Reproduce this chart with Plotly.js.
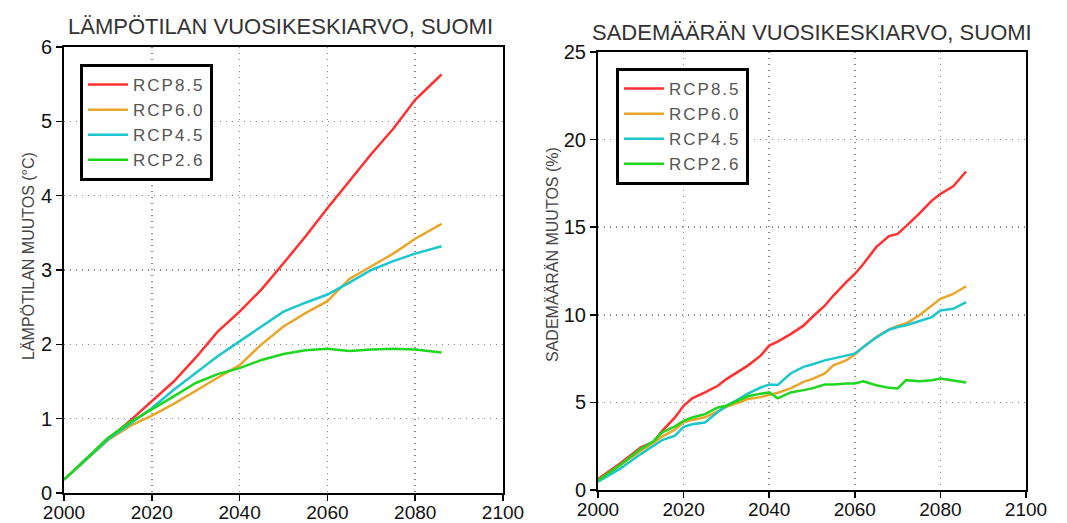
<!DOCTYPE html>
<html>
<head>
<meta charset="utf-8">
<script src="https://cdn.plot.ly/plotly-3.0.1.min.js"></script>
<style>
html,body{margin:0;padding:0;background:#fff;}
#chart{width:1067px;height:523px;}
text.legendtext, g[class*="legend"] text{letter-spacing:2px;}
</style>
</head>
<body>
<div id="chart"></div>
<script>
// ---- Temperature (left panel) ----
const tempYears = [2000,2005,2010,2015,2020,2025,2030,2035,2040,2045,2050,2055,2060,2065,2070,2075,2080,2086];
const tempRCP85 = [0.18,0.45,0.72,0.97,1.24,1.50,1.82,2.17,2.44,2.74,3.09,3.45,3.83,4.20,4.56,4.90,5.29,5.63];
const tempRCP60 = [0.18,0.45,0.71,0.90,1.04,1.20,1.38,1.55,1.72,2.00,2.24,2.42,2.58,2.88,3.05,3.22,3.42,3.62];
const tempRCP45 = [0.18,0.45,0.72,0.93,1.14,1.39,1.61,1.84,2.04,2.24,2.44,2.56,2.67,2.83,3.00,3.12,3.22,3.32];
const tempRCP26 = [0.18,0.46,0.74,0.95,1.12,1.30,1.48,1.60,1.68,1.79,1.87,1.92,1.94,1.91,1.93,1.94,1.93,1.89];

// ---- Precipitation (right panel) ----
const precYears = [2000,2005,2010,2013,2015,2018,2020,2022,2025,2028,2030,2033,2035,2038,2040,2042,2045,2048,2050,2053,2055,2058,2060,2062,2065,2068,2070,2072,2075,2078,2080,2083,2086];
const precRCP85 = [0.62,1.48,2.43,2.75,3.38,4.14,4.81,5.23,5.57,5.95,6.33,6.81,7.10,7.67,8.24,8.47,8.90,9.38,9.86,10.52,11.10,11.86,12.33,12.90,13.86,14.49,14.62,15.06,15.76,16.52,16.90,17.34,18.18];
const precRCP60 = [0.52,1.38,2.24,2.70,3.05,3.45,3.86,4.00,4.15,4.50,4.75,5.00,5.19,5.30,5.42,5.55,5.80,6.17,6.33,6.65,7.12,7.40,7.73,8.16,8.73,9.17,9.36,9.50,9.96,10.53,10.91,11.19,11.63];
const precRCP45 = [0.47,1.19,2.05,2.55,2.85,3.10,3.60,3.75,3.85,4.45,4.80,5.20,5.50,5.85,6.02,6.00,6.65,7.03,7.16,7.40,7.50,7.65,7.78,8.16,8.70,9.15,9.30,9.40,9.62,9.87,10.25,10.34,10.72];
const precRCP26 = [0.55,1.40,2.35,2.80,3.29,3.63,3.95,4.14,4.33,4.71,4.81,5.15,5.35,5.50,5.57,5.23,5.57,5.70,5.80,6.02,6.02,6.08,6.08,6.21,5.98,5.83,5.80,6.27,6.21,6.27,6.36,6.25,6.14];

const seriesNames = ['RCP8.5','RCP6.0','RCP4.5','RCP2.6'];
const seriesColors = ['#ff3030','#e8a62a','#1cc6cc','#1fd61f'];

const tempSeries = [tempRCP85,tempRCP60,tempRCP45,tempRCP26];
const precSeries = [precRCP85,precRCP60,precRCP45,precRCP26];

const traces = [];
tempSeries.forEach((ys,i)=>{
  traces.push({x:tempYears,y:ys,type:'scatter',mode:'lines',name:seriesNames[i],
    line:{color:seriesColors[i],width:2.5},xaxis:'x',yaxis:'y',legend:'legend'});
});
precSeries.forEach((ys,i)=>{
  traces.push({x:precYears,y:ys,type:'scatter',mode:'lines',name:seriesNames[i],
    line:{color:seriesColors[i],width:2.5},xaxis:'x2',yaxis:'y2',legend:'legend2'});
});

const W=1067,H=523;
const fontFam = '"Liberation Sans", Arial, sans-serif';
const axisCommon = {
  showline:true, mirror:true, linecolor:'#000', linewidth:2,
  ticks:'outside', ticklen:6, tickwidth:1.5, tickcolor:'#000',
  showgrid:true, gridcolor:'#8a8a8a', griddash:'1px,5px', gridwidth:1.5,
  zeroline:false, fixedrange:true,
  tickfont:{family:fontFam,size:20,color:'#111'}
};
const xTickFont = {family:fontFam,size:19,color:'#111'};
const legendCommon = {
  bgcolor:'#fff', bordercolor:'#000', borderwidth:3,
  font:{family:fontFam,size:17,color:'#555'},
  xanchor:'left', yanchor:'top', tracegroupgap:0, itemwidth:40
};

const layout = {
  width:W, height:H,
  margin:{l:0,r:0,t:0,b:0},
  paper_bgcolor:'#fff', plot_bgcolor:'#fff',
  showlegend:true,
  xaxis: Object.assign({}, axisCommon, {domain:[64/W,503/W], range:[2000,2100], dtick:20, tick0:2000, anchor:'y', ticklabelstandoff:-5, tickfont:xTickFont}),
  yaxis: Object.assign({}, axisCommon, {domain:[(H-493)/H,(H-47)/H], range:[0,6], dtick:1, anchor:'x'}),
  xaxis2: Object.assign({}, axisCommon, {domain:[598/W,1026/W], range:[2000,2100], dtick:20, tick0:2000, anchor:'y2', ticklabelstandoff:-5, tickfont:xTickFont}),
  yaxis2: Object.assign({}, axisCommon, {domain:[(H-490)/H,(H-52)/H], range:[0,25], dtick:5, anchor:'x2'}),
  legend: Object.assign({}, legendCommon, {x:80/W, y:1-64/H}),
  legend2: Object.assign({}, legendCommon, {x:616/W, y:1-68/H}),
  annotations:[
    {text:'LÄMPÖTILAN VUOSIKESKIARVO, SUOMI', xref:'paper', yref:'paper', x:280/W, y:1-26/H,
     xanchor:'center', yanchor:'middle', showarrow:false, font:{family:fontFam,size:22,color:'#333'}},
    {text:'SADEMÄÄRÄN VUOSIKESKIARVO, SUOMI', xref:'paper', yref:'paper', x:812/W, y:1-32/H,
     xanchor:'center', yanchor:'middle', showarrow:false, font:{family:fontFam,size:22,color:'#333'}},
    {text:'LÄMPÖTILAN MUUTOS (°C)', xref:'paper', yref:'paper', x:28/W, y:1-256/H, textangle:-90,
     xanchor:'center', yanchor:'middle', showarrow:false, font:{family:fontFam,size:16,color:'#444'}},
    {text:'SADEMÄÄRÄN MUUTOS (%)', xref:'paper', yref:'paper', x:552/W, y:1-255/H, textangle:-90,
     xanchor:'center', yanchor:'middle', showarrow:false, font:{family:fontFam,size:16,color:'#444'}}
  ]
};

Plotly.newPlot('chart', traces, layout, {displayModeBar:false, staticPlot:true});
</script>
</body>
</html>
